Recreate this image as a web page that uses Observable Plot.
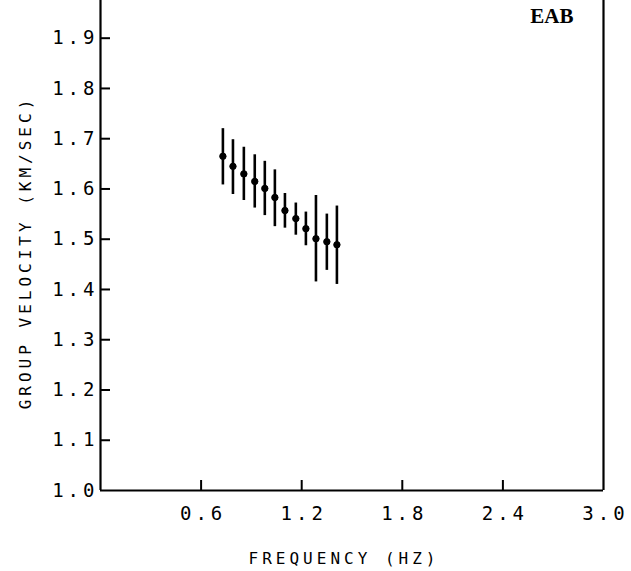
<!DOCTYPE html>
<html>
<head>
<meta charset="utf-8">
<script src="https://cdn.jsdelivr.net/npm/d3@7"></script>
<script src="https://cdn.jsdelivr.net/npm/@observablehq/plot@0.6"></script>
<style>
  body { margin: 0; background: #fff; }
  #chart svg text { letter-spacing: 4px; }
</style>
</head>
<body>
<div id="chart"></div>
<script>
// Group-velocity dispersion measurements, station EAB
const frequency    = [0.73, 0.79, 0.855, 0.92, 0.98, 1.04, 1.10, 1.165, 1.225, 1.285, 1.35, 1.41];
const velocity     = [1.665, 1.645, 1.630, 1.615, 1.601, 1.583, 1.557, 1.541, 1.521, 1.501, 1.495, 1.489];
const velocityLow  = [1.608, 1.589, 1.577, 1.562, 1.547, 1.525, 1.522, 1.508, 1.487, 1.415, 1.438, 1.410];
const velocityHigh = [1.720, 1.698, 1.683, 1.668, 1.655, 1.638, 1.591, 1.572, 1.554, 1.587, 1.550, 1.566];

const xTickValues = [0.6, 1.2, 1.8, 2.4, 3.0];
const yTickValues = [1.0, 1.1, 1.2, 1.3, 1.4, 1.5, 1.6, 1.7, 1.8, 1.9];

const stationLabel = "EAB";
const xLabel = "FREQUENCY (HZ)";
const yLabel = "GROUP VELOCITY (KM/SEC)";

const rows = frequency.map((f, i) => ({
  f, v: velocity[i], lo: velocityLow[i], hi: velocityHigh[i]
}));

const mono = "'DejaVu Sans Mono', 'Liberation Mono', monospace";

const chart = Plot.plot({
  width: 631,
  height: 571,
  marginLeft: 100,
  marginRight: 28,
  marginTop: 0,
  marginBottom: 81,
  style: { fontFamily: mono, background: "#fff", color: "#000", overflow: "visible" },
  x: { domain: [0, 3], axis: null },
  y: { domain: [1.0, 1.975], axis: null },
  marks: [
    // open frame: left, right and bottom edges
    Plot.ruleX([0, 3], { strokeWidth: 2.2, stroke: "#000" }),
    Plot.ruleY([1.0], { strokeWidth: 2.2, stroke: "#000" }),

    // inward tick marks
    Plot.tickX(xTickValues.filter(d => d < 3), { x: d => d, insetTop: 480, strokeWidth: 2, stroke: "#000" }),
    Plot.tickY(yTickValues.filter(d => d > 1.0), { y: d => d, insetRight: 493, strokeWidth: 2, stroke: "#000" }),

    // tick labels
    Plot.text(xTickValues, {
      x: d => d, frameAnchor: "bottom", text: d => d.toFixed(1),
      lineAnchor: "top", dy: 16, dx: 2, fontSize: 19, fill: "#000"
    }),
    Plot.text(yTickValues, {
      y: d => d, frameAnchor: "left", text: d => d.toFixed(1),
      textAnchor: "end", lineAnchor: "middle", dx: -2, fontSize: 19, fill: "#000"
    }),

    // axis titles
    Plot.text([xLabel], {
      frameAnchor: "bottom", text: d => d, lineAnchor: "middle",
      dx: -8, dy: 68, fontSize: 16, fill: "#000"
    }),
    Plot.text([yLabel], {
      frameAnchor: "left", text: d => d, rotate: -90,
      textAnchor: "middle", lineAnchor: "middle",
      dx: -75, dy: 7, fontSize: 16, fill: "#000"
    }),

    // error bars and measured values
    Plot.ruleX(rows, { x: "f", y1: "lo", y2: "hi", strokeWidth: 2.6, stroke: "#000" }),
    Plot.dot(rows, { x: "f", y: "v", r: 3.2, fill: "#000", stroke: "#000", strokeWidth: 1 }),

    // station code
    Plot.text([stationLabel], {
      frameAnchor: "top-right", text: d => d, textAnchor: "end", lineAnchor: "top",
      dx: -30, dy: 8, fontSize: 21, fontWeight: "bold",
      fontFamily: "'Liberation Serif', 'DejaVu Serif', serif", fill: "#000"
    })
  ]
});

document.getElementById("chart").appendChild(chart);

// the station code is set without extra spacing
d3.select(chart).selectAll("text")
  .filter(function () { return this.textContent === stationLabel; })
  .style("letter-spacing", "0px");
</script>
</body>
</html>
